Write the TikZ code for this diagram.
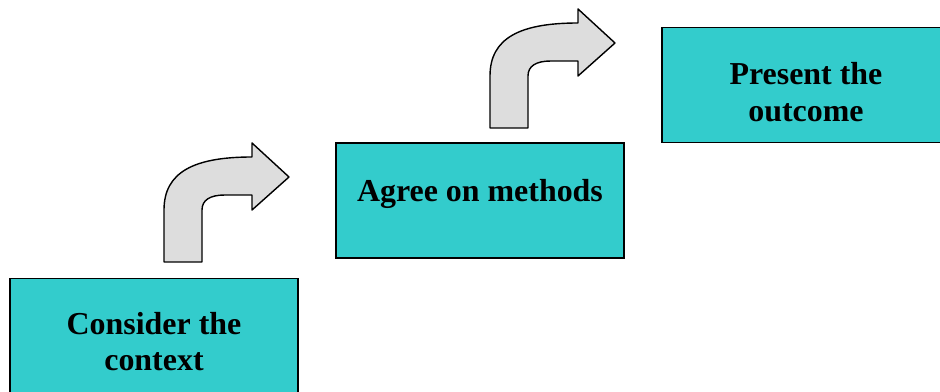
\documentclass[tikz,border=0pt]{standalone}
\usepackage{fontspec}
\setmainfont{Liberation Serif}
\usetikzlibrary{positioning, calc}
\definecolor{stepteal}{HTML}{33CCCC}
\definecolor{arrowgrey}{HTML}{DDDDDD}
\newcommand{\bentarrow}[1]
{
	\draw[fill=arrowgrey, line width=1pt, line join=round, shift={(#1)}] (0,0) -- (0,-52) .. controls (0,-90) and (30,-105) .. (88,-105) -- (88,-119) -- (125,-85) -- (88,-52) -- (88,-67) -- (61,-67) .. controls (46,-67) and (38,-62) .. (38,-52) -- (38,0) -- cycle
}
\newcommand{\steptext}[2]
{\raisebox{#1}[0pt][0pt]{\begin{tabular}{@{}c@{}}#2\end{tabular}}}

\begin{document}
\begin{tikzpicture}[x=0.025cm, y=-0.025cm,
	every node/.append style={shape=rectangle,
		draw=black, line width=1pt, fill=stepteal,
		align=center, font=\fontsize{22.7}{26}\selectfont\bfseries},
	minimum width=7.2cm,
	minimum height=2.875cm]

	\clip (0,0) rectangle (940,392);

	\node (S1) at (154,336) {\steptext{-11.7pt}{Consider the\\context}};
	\node (S2) at (480,200.5) {\steptext{-0.4pt}{Agree on methods}};
	\node (S3) at (806,85) {\steptext{-12.7pt}{Present the\\outcome}};

	\coordinate (A1) at (164,262);
	\coordinate (A2) at (490,128);
	\bentarrow{A1};
	\bentarrow{A2};
\end{tikzpicture}
\end{document}
